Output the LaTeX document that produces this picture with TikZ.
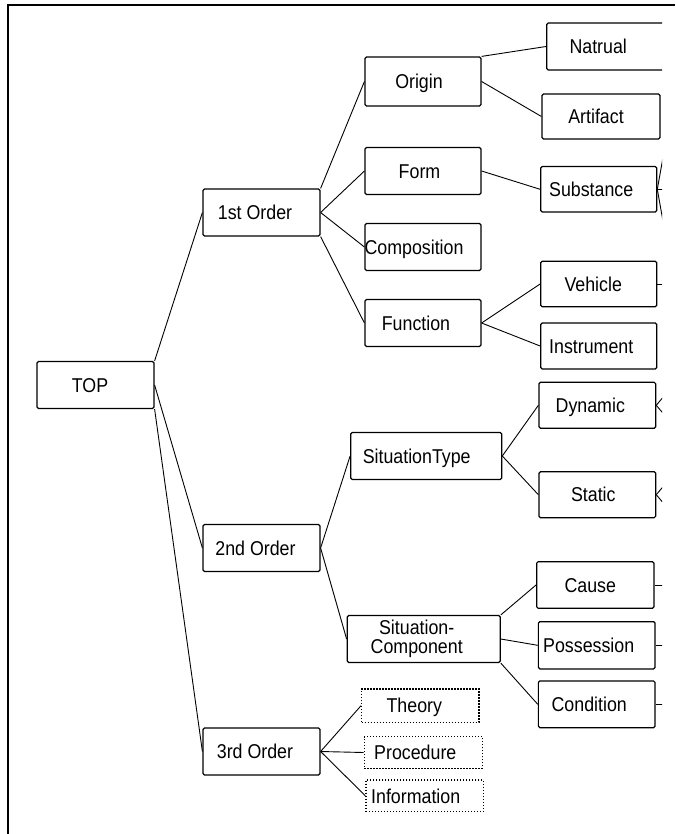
\documentclass[tikz,border=0pt]{standalone}
\usepackage{fontspec}
\setmainfont{Liberation Sans}[FakeStretch=0.89]
\usetikzlibrary{calc}
\begin{document}
\begin{tikzpicture}[x=1pt,y=-1pt,
  box/.style={draw, line width=1.2pt, rounded corners=1.5pt, minimum height=47pt,
    inner sep=0pt, font=\fontsize{20}{16.5}\selectfont, text height=14.4pt, text depth=0pt},
  dbox/.style={box, dash pattern=on 1.3pt off 1.7pt, line width=1.3pt, rounded corners=0pt},
  link/.style={line width=0.9pt}]
\useasboundingbox (0,0) rectangle (675,834);
\draw[line width=2pt] (8,834) -- (8,5) -- (675,5);
\begin{scope}
\clip (0,0) rectangle (662,834);
% level 0
\node[box, minimum width=117pt] (top) at (95.5,385) {\kern-11pt TOP};
% level 1
\node[box, minimum width=117pt] (o1) at (261.5,212.5) {\kern-13pt 1st Order};
\node[box, minimum width=117pt] (o2) at (261.5,548) {\kern-12pt 2nd Order};
\node[box, minimum width=117pt] (o3) at (261.5,751.5) {\kern-13pt 3rd Order};
% level 2
\node[box, minimum width=116pt, minimum height=49pt] (origin) at (423,81.5) {\kern-8pt Origin};
\node[box, minimum width=116pt] (form) at (423,171) {\kern-7pt Form};
\node[box, minimum width=116pt] (comp) at (423,247) {\kern-18pt Composition};
\node[box, minimum width=116pt] (func) at (423,323) {\kern-14pt Function};
\node[box, minimum width=151pt] (sittype) at (426.2,456) {\kern-19pt SituationType};
\node[box, minimum width=153pt, text height={}, text depth={}] (sitcomp) at (423.7,639)
  {\kern-14pt\begin{tabular}{@{}c@{}}Situation-\\Component\end{tabular}};
\node[dbox, minimum width=117.3pt, minimum height=33.3pt] (theory) at (420.3,705.7) {\kern-12pt Theory};
\node[dbox, minimum width=118pt, minimum height=31.6pt] (proc) at (423.3,752.5) {\kern-16pt Procedure};
\node[dbox, minimum width=117.3pt, minimum height=31.7pt] (info) at (424.7,795.8) {\kern-18pt Information};
% level 3
\node[box, minimum width=124pt] (natrual) at (608.7,46.5) {\kern-21pt Natrual};
\node[box, minimum width=118pt, minimum height=45pt] (artifact) at (601,116.5) {\kern-10pt Artifact};
\node[box, minimum width=116pt, minimum height=45.5pt] (subst) at (598.7,189.3) {\kern-15pt Substance};
\node[box, minimum width=116pt, minimum height=45.5pt] (vehicle) at (598.7,284) {\kern-11pt Vehicle};
\node[box, minimum width=116pt, minimum height=46pt] (instr) at (598.7,346) {\kern-15pt Instrument};
\node[box, minimum width=116.7pt, minimum height=46pt] (dynamic) at (597.3,405.3) {\kern-14pt Dynamic};
\node[box, minimum width=116.7pt, minimum height=46pt] (static) at (597.3,494.7) {\kern-8pt Static};
\node[box, minimum width=117.3pt, minimum height=46.6pt] (cause) at (595.3,585) {\kern-10pt Cause};
\node[box, minimum width=116.7pt, minimum height=47.3pt] (poss) at (596.7,645.3) {\kern-16pt Possession};
\node[box, minimum width=116.7pt, minimum height=46.7pt] (cond) at (596.7,704.3) {\kern-15pt Condition};
% off-picture children
\coordinate (subA) at (667,135);
\coordinate (subB) at (690,189.3);
\coordinate (subC) at (667,243.6);
\coordinate (vehA) at (690,284);
\coordinate (dynA) at (680,377);
\coordinate (dynB) at (680,433);
\coordinate (staA) at (680,466.7);
\coordinate (staB) at (680,522.7);
\coordinate (cauA) at (690,585);
\coordinate (posA) at (690,645.3);
\coordinate (conA) at (690,704.3);
% connectors
\draw[link] (top.north east) -- (o1.west);
\draw[link] (top.east) -- (o2.west);
\draw[link] (top.south east) -- (o3.west);
\draw[link] (o1.north east) -- (origin.west);
\draw[link] (o1.east) -- (form.west);
\draw[link] (o1.east) -- (comp.west);
\draw[link] (o1.south east) -- (func.west);
\draw[link] (origin.north east) -- (natrual.west);
\draw[link] (origin.east) -- (artifact.west);
\draw[link] (form.east) -- (subst.west);
\draw[link] (func.east) -- (vehicle.west);
\draw[link] (func.east) -- (instr.west);
\draw[link] (o2.east) -- (sittype.west);
\draw[link] (o2.east) -- (sitcomp.west);
\draw[link] (sittype.east) -- (dynamic.west);
\draw[link] (sittype.east) -- (static.west);
\draw[link] (sitcomp.north east) -- (cause.west);
\draw[link] (sitcomp.east) -- (poss.west);
\draw[link] (sitcomp.south east) -- (cond.west);
\draw[link] (o3.east) -- (theory.west);
\draw[link] (o3.east) -- (proc.west);
\draw[link] (o3.east) -- (info.west);
\draw[link] (subst.east) -- (subA);
\draw[link] (subst.east) -- (subB);
\draw[link] (subst.east) -- (subC);
\draw[link] (vehicle.east) -- (vehA);
\draw[link] (dynamic.east) -- (dynA);
\draw[link] (dynamic.east) -- (dynB);
\draw[link] (static.east) -- (staA);
\draw[link] (static.east) -- (staB);
\draw[link] (cause.east) -- (cauA);
\draw[link] (poss.east) -- (posA);
\draw[link] (cond.east) -- (conA);
\end{scope}
\end{tikzpicture}
\end{document}
